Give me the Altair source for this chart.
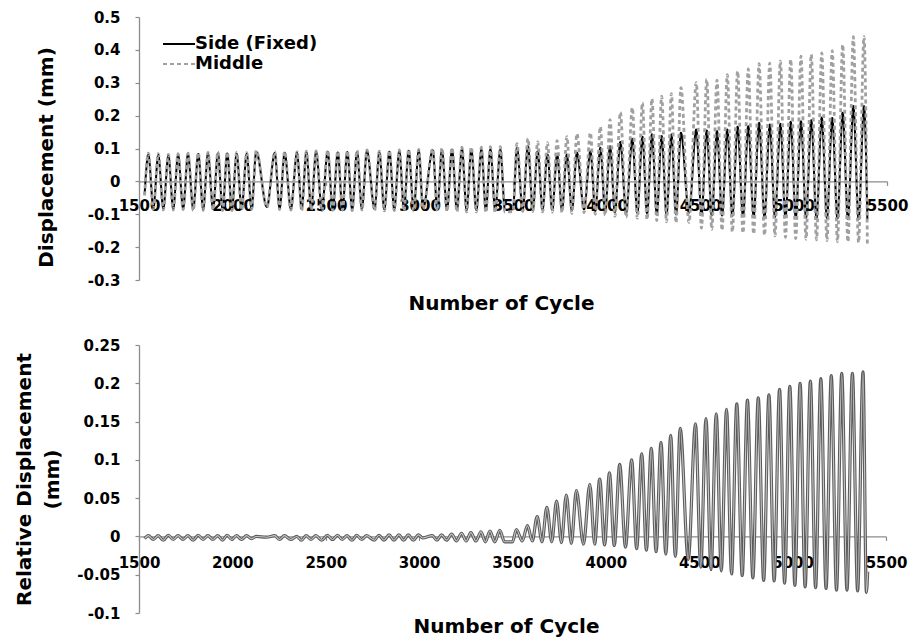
import altair as alt
import pandas as pd

# ---- cycle positions of the extremes of each oscillation ----
peak_cycle = [1550, 1603, 1657, 1709, 1762, 1817, 1869, 1922, 1972, 2022, 2076, 2127,
              2226, 2279,
              2345, 2395, 2447, 2509, 2563, 2614, 2666, 2719, 2785, 2839, 2892, 2942, 2996,
              3071, 3120,
              3174, 3227, 3277, 3331, 3379, 3432,
              3521, 3580, 3632, 3684, 3736, 3788, 3842,
              3914, 3967, 4019, 4074, 4138, 4192, 4243, 4295, 4347, 4398,
              4480, 4536, 4591, 4646, 4701, 4758, 4816, 4873, 4930, 4985, 5040, 5095,
              5151, 5207, 5263, 5320, 5377]

trough_cycle = [1530,
                1577, 1630, 1683, 1736, 1790, 1843, 1896, 1947, 1997, 2049, 2102,
                2184,
                2252, 2312, 2370, 2421, 2478, 2536, 2588, 2640, 2692, 2760, 2812, 2865, 2917, 2969,
                3019,
                3095, 3147, 3200, 3252, 3304, 3355, 3405,
                3457, 3500,
                3552, 3606, 3658, 3710, 3762, 3815, 3880,
                3940, 3993, 4045, 4105, 4165, 4217, 4269, 4321, 4372,
                4441,
                4508, 4563, 4618, 4673, 4730, 4787, 4845, 4901, 4957, 5012, 5067, 5123,
                5179, 5235, 5291, 5348,
                5395]

# ---- displacement (mm) at the side support ----
side_peak = [0.082, 0.080, 0.078, 0.080, 0.082, 0.083, 0.084, 0.085, 0.085, 0.084, 0.083, 0.090,
             0.086, 0.087,
             0.086, 0.088, 0.089, 0.090, 0.088, 0.089, 0.090, 0.092, 0.088, 0.090, 0.092, 0.093, 0.093,
             0.095, 0.096,
             0.097, 0.098, 0.097, 0.096, 0.097, 0.096,
             0.102, 0.107, 0.092, 0.082, 0.082, 0.082, 0.087,
             0.092, 0.102, 0.107, 0.120, 0.130, 0.136, 0.143, 0.138, 0.143, 0.148,
             0.158, 0.155, 0.153, 0.158, 0.166, 0.168, 0.178, 0.173, 0.175, 0.181, 0.183, 0.186,
             0.194, 0.193, 0.209, 0.229, 0.229]
side_trough = [-0.040,
               -0.080, -0.082, -0.083, -0.082, -0.083, -0.084, -0.083, -0.084, -0.085, -0.083, -0.082,
               -0.078,
               -0.082, -0.083, -0.084, -0.083, -0.084, -0.084, -0.083, -0.084, -0.083, -0.084, -0.085,
               -0.084, -0.085, -0.085,
               -0.082,
               -0.085, -0.086, -0.086, -0.087, -0.087, -0.088, -0.088,
               -0.086, -0.085,
               -0.085, -0.086, -0.086, -0.087, -0.087, -0.088, -0.085,
               -0.090, -0.092, -0.094, -0.095, -0.096, -0.098, -0.099, -0.100, -0.100,
               -0.095,
               -0.102, -0.103, -0.104, -0.105, -0.106, -0.106, -0.107, -0.108, -0.109, -0.110, -0.110,
               -0.111, -0.112, -0.113, -0.114, -0.115,
               -0.116]

# ---- displacement (mm) at mid-span ----
middle_peak = [0.086, 0.084, 0.082, 0.084, 0.086, 0.087, 0.088, 0.089, 0.089, 0.088, 0.087, 0.094,
               0.090, 0.091,
               0.090, 0.092, 0.093, 0.094, 0.092, 0.093, 0.094, 0.096, 0.092, 0.094, 0.096, 0.097, 0.097,
               0.099, 0.101,
               0.102, 0.104, 0.104, 0.104, 0.106, 0.106,
               0.115, 0.130, 0.120, 0.118, 0.124, 0.136, 0.145,
               0.148, 0.166, 0.188, 0.210, 0.224, 0.239, 0.251, 0.259, 0.267, 0.285,
               0.300, 0.310, 0.308, 0.325, 0.335, 0.342, 0.358, 0.360, 0.366, 0.371, 0.381, 0.386,
               0.391, 0.398, 0.416, 0.440, 0.440]
middle_trough = [-0.043,
                 -0.084, -0.087, -0.087, -0.086, -0.088, -0.088, -0.087, -0.089, -0.089, -0.087, -0.085,
                 -0.079,
                 -0.086, -0.087, -0.089, -0.087, -0.089, -0.088, -0.087, -0.089, -0.087, -0.089, -0.090,
                 -0.089, -0.090, -0.090,
                 -0.084,
                 -0.090, -0.091, -0.092, -0.093, -0.093, -0.095, -0.095,
                 -0.093, -0.092,
                 -0.091, -0.092, -0.093, -0.094, -0.095, -0.097, -0.095,
                 -0.100, -0.103, -0.106, -0.109, -0.112, -0.116, -0.119, -0.123, -0.126,
                 -0.125,
                 -0.142, -0.146, -0.149, -0.154, -0.157, -0.160, -0.164, -0.166, -0.170, -0.174, -0.176,
                 -0.178, -0.180, -0.183, -0.184, -0.186,
                 -0.189]

# ---- relative displacement (mm), middle minus side ----
rel_peak = [0.001, 0.001, 0.0015, 0.001, 0.001, 0.0015, 0.001, 0.001, 0.0015, 0.001, 0.001, 0.0,
            0.001, 0.001,
            0.0, 0.001, 0.001, 0.0015, 0.0015, 0.001, 0.0015, 0.001, 0.0015, 0.002, 0.002, 0.002, 0.002,
            0.001, 0.002,
            0.003, 0.004, 0.005, 0.006, 0.007, 0.008,
            0.009, 0.014, 0.026, 0.038, 0.046, 0.054, 0.060,
            0.068, 0.075, 0.083, 0.094, 0.100, 0.108, 0.115, 0.123, 0.132, 0.141,
            0.147, 0.154, 0.160, 0.166, 0.173, 0.178, 0.181, 0.185, 0.192, 0.196, 0.200, 0.203,
            0.206, 0.210, 0.213, 0.213, 0.215]
rel_trough = [-0.003,
              -0.004, -0.005, -0.004, -0.004, -0.005, -0.004, -0.004, -0.005, -0.004, -0.004, -0.003,
              -0.001,
              -0.004, -0.004, -0.005, -0.004, -0.005, -0.004, -0.004, -0.005, -0.004, -0.005, -0.005,
              -0.005, -0.005, -0.005,
              -0.002,
              -0.005, -0.005, -0.006, -0.006, -0.006, -0.007, -0.007,
              -0.007, -0.007,
              -0.006, -0.006, -0.007, -0.007, -0.008, -0.009, -0.010,
              -0.010, -0.011, -0.012, -0.014, -0.016, -0.018, -0.020, -0.023, -0.026,
              -0.030,
              -0.040, -0.0435, -0.045, -0.049, -0.051, -0.054, -0.0575, -0.058, -0.061, -0.064, -0.066,
              -0.067, -0.068, -0.070, -0.070, -0.071,
              -0.073]
rel_end_cycle = 5402
rel_end = -0.046

series_names = ["Side (Fixed)", "Middle"]
x_ticks = [1500, 2000, 2500, 3000, 3500, 4000, 4500, 5000, 5500]
top_y_ticks = [-0.3, -0.2, -0.1, 0, 0.1, 0.2, 0.3, 0.4, 0.5]
bottom_y_ticks = [-0.1, -0.05, 0, 0.05, 0.1, 0.15, 0.2, 0.25]

FONT = "DejaVu Sans"
AXIS_GREY = "#8c8c8c"
LABEL_EXPR = "replace(format(datum.value, '.2~f'), '\u2212', '-')"


def trace(peaks, troughs, extra=()):
    pts = list(zip(peak_cycle, peaks)) + list(zip(trough_cycle, troughs)) + list(extra)
    return sorted(pts)


top_rows = []
for name, pk, tr in [(series_names[0], side_peak, side_trough),
                     (series_names[1], middle_peak, middle_trough)]:
    for c, v in trace(pk, tr):
        top_rows.append({"cycle": c, "value": v, "series": name})
top_df = pd.DataFrame(top_rows)

rel_df = pd.DataFrame(
    [{"cycle": c, "value": v} for c, v in trace(rel_peak, rel_trough, [(rel_end_cycle, rel_end)])]
)

TOP_W, TOP_H = 748, 263
BOT_W, BOT_H = 747, 268
top_lo, top_hi = -0.3, 0.5
bot_lo, bot_hi = -0.1, 0.25
# the category axis crosses the value axis at zero
top_zero_offset = -TOP_H * (0 - top_lo) / (top_hi - top_lo)
bot_zero_offset = -BOT_H * (0 - bot_lo) / (bot_hi - bot_lo)

# ---------------- upper panel ----------------
x_top = alt.X(
    "cycle:Q",
    scale=alt.Scale(domain=[1500, 5500], nice=False, zero=False),
    axis=alt.Axis(values=x_ticks, format="d", offset=top_zero_offset, labelFlush=False,
                  labelPadding=13,
                  title="Number of Cycle", titleX=362, titleY=128,
                  titleAlign="center", titleBaseline="alphabetic"),
)
y_top = alt.Y(
    "value:Q",
    scale=alt.Scale(domain=[top_lo, top_hi], nice=False, zero=False),
    axis=alt.Axis(values=top_y_ticks, labelExpr=LABEL_EXPR, title="Displacement (mm)",
                  titleX=-93, titleY=140, titleAlign="center", titleBaseline="middle"),
)
# a short horizontal stroke, twice as long as the nominal symbol box
legend = alt.Legend(title=None, orient="none", legendX=31, legendY=18, padding=0,
                    symbolType="M-2,0H2", symbolSize=256, symbolStrokeWidth=2,
                    labelFont=FONT, labelFontSize=18, labelFontWeight="bold",
                    labelColor="black", labelOffset=7, rowPadding=2)
color = alt.Color("series:N", scale=alt.Scale(domain=series_names, range=["#000000", "#a0a0a0"]),
                  legend=legend)
dash = alt.StrokeDash("series:N", scale=alt.Scale(domain=series_names, range=[[1, 0], [4, 3]]),
                      legend=legend)

side_line = alt.Chart(top_df).transform_filter(
    alt.datum.series == series_names[0]
).mark_line(interpolate="monotone", strokeWidth=2).encode(
    x=x_top, y=y_top, color=color, strokeDash=dash
)
middle_line = alt.Chart(top_df).transform_filter(
    alt.datum.series == series_names[1]
).mark_line(interpolate="monotone", strokeWidth=2.8).encode(
    x=x_top, y=y_top, color=color, strokeDash=dash
)
top = alt.layer(side_line, middle_line).properties(width=TOP_W, height=TOP_H)

# ---------------- lower panel ----------------
x_bot = alt.X(
    "cycle:Q",
    scale=alt.Scale(domain=[1500, 5500], nice=False, zero=False),
    axis=alt.Axis(values=x_ticks, format="d", offset=bot_zero_offset, labelFlush=False,
                  title="Number of Cycle", titleX=367, titleY=96,
                  titleAlign="center", titleBaseline="alphabetic"),
)
y_bot = alt.Y(
    "value:Q",
    scale=alt.Scale(domain=[bot_lo, bot_hi], nice=False, zero=False),
    axis=alt.Axis(values=bottom_y_ticks, labelExpr=LABEL_EXPR,
                  title=["Relative  Displacement", "(mm)"], titleLineHeight=28,
                  titleX=-115, titleAlign="center", titleBaseline="middle"),
)
rel_outer = alt.Chart(rel_df).mark_line(interpolate="monotone", strokeWidth=3.2, color="#5c5c5c").encode(
    x=x_bot, y=y_bot
)
rel_inner = alt.Chart(rel_df).mark_line(interpolate="monotone", strokeWidth=1.1, color="#c8c8c8").encode(
    x=x_bot, y=y_bot
)
bottom = alt.layer(rel_outer, rel_inner).properties(width=BOT_W, height=BOT_H)

chart = (
    alt.vconcat(top, bottom, spacing=24)
    .properties(padding={"left": 13, "top": 10, "right": 5, "bottom": 5}, background="white")
    .configure_view(stroke=None)
    .configure_axis(
        grid=False,
        domainColor=AXIS_GREY, domainWidth=1.3,
        tickColor=AXIS_GREY, tickWidth=1.2, tickSize=4,
        labelFont=FONT, labelFontSize=15, labelFontWeight="bold", labelColor="black",
        labelPadding=15,
        titleFont=FONT, titleFontSize=20, titleFontWeight="bold", titleColor="black",
    )
)

chart.save("out.html", embed_options={"renderer": "svg", "actions": False})
